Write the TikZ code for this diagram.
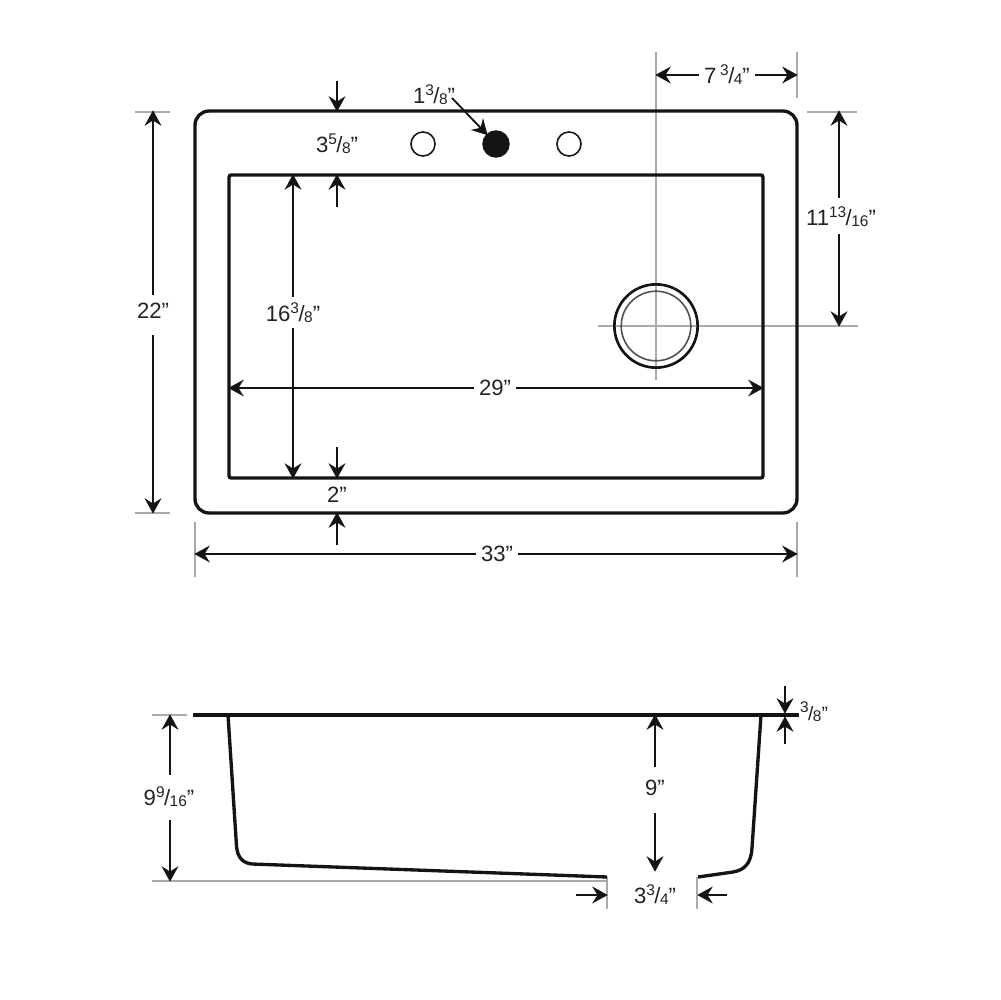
\documentclass[tikz,border=0pt]{standalone}
\usepackage{fontspec}
\setmainfont{Liberation Sans}
\usepackage{xcolor}
\usetikzlibrary{arrows.meta, calc}
\definecolor{skline}{RGB}{20,20,20}
\definecolor{skgray}{RGB}{170,170,170}
\definecolor{sktext}{RGB}{35,35,35}
\newcommand{\frc}[2]{\raisebox{4.4pt}{\fontsize{8.8}{9}\selectfont #1}\kern-0.3pt/\kern-0.3pt\raisebox{-0.8pt}{\fontsize{8.8}{9}\selectfont #2}}
\tikzset{
  part/.style={draw=skline,line width=1.9pt},
  rimbox/.style={part,rectangle,outer sep=0pt,inner sep=0pt},
  hole/.style={circle,draw=skline,line width=0.9pt,minimum size=13.7pt,inner sep=0pt,outer sep=0pt},
  guide/.style={draw=skgray,line width=0.7pt},
  dim/.style={-{Stealth[length=8.8pt,width=9.6pt,inset=3pt]},draw=skline,line width=1.05pt,shorten >=-0.4pt},
  lbl/.style={text=sktext,font=\fontsize{12.6}{14}\selectfont,inner sep=2.6pt}
}
\begin{document}
\begin{tikzpicture}[x=0.02cm,y=-0.02cm]
\useasboundingbox (0,0) rectangle (1000,1000);

% Guide lines
\draw[guide] (656,52) -- (656,380);
\draw[guide] (598,326) -- (858,326);
\draw[guide] (797,52) -- (797,98);
\draw[guide] (807,112) -- (857,112);
\draw[guide] (135,112) -- (170,112);
\draw[guide] (135,513) -- (170,513);
\draw[guide] (195,522) -- (195,577);
\draw[guide] (797,522) -- (797,577);
\draw[guide] (152,715) -- (187,715);
\draw[guide] (152,881) -- (607,881);
\draw[guide] (607,877) -- (607,909);
\draw[guide] (697,877) -- (697,909);

% Top view
\node[rimbox,rounded corners=8pt,minimum width=342.6pt,minimum height=228.8pt] (outer) at (496,312) {};
\node[rimbox,rounded corners=1.2pt,minimum width=303.9pt,minimum height=172.5pt] (inner) at (496,326.5) {};
\node[hole] (holeL) at (423,144) {};
\node[hole,fill=skline,line width=1pt,minimum size=14.6pt] (holeM) at (496,144) {};
\node[hole] (holeR) at (569,144) {};
\node[circle,draw=skline,line width=1.5pt,minimum size=47.4pt,inner sep=0pt,outer sep=0pt] (drain) at (656,326) {};
\node[circle,draw=skline!75,line width=0.9pt,minimum size=39.6pt,inner sep=0pt] (drainin) at (656,326) {};

% Top view dimensions
\node[lbl] (w734) at (727,75) {7\,\frc{3}{4}"};
\draw[dim] (w734) -- (w734 -| drain);
\draw[dim] (w734) -- (w734 -| outer.east);

\node[lbl] (h1113) at (841,217) {11\frc{13}{16}"};
\coordinate (a1113u) at (839,198);
\coordinate (a1113d) at (839,234);
\draw[dim] (a1113u) -- (a1113u |- outer.north);
\draw[dim] (a1113d) -- (a1113d |- drain);

\node[lbl] (h22) at (153,311) {22"};
\coordinate (a22u) at (153,295);
\coordinate (a22d) at (153,335);
\draw[dim] (a22u) -- (a22u |- outer.north);
\draw[dim] (a22d) -- (a22d |- outer.south);

\node[lbl] (h1638) at (293,313) {16\frc{3}{8}"};
\coordinate (a1638u) at (293,297);
\coordinate (a1638d) at (293,328);
\draw[dim] (a1638u) -- (a1638u |- inner.north);
\draw[dim] (a1638d) -- (a1638d |- inner.south);

\node[lbl] (w29) at (495,388) {29"};
\draw[dim] (w29) -- (w29 -| inner.west);
\draw[dim] (w29) -- (w29 -| inner.east);

\node[lbl] (w33) at (497,554) {33"};
\draw[dim] (w33) -- (w33 -| outer.west);
\draw[dim] (w33) -- (w33 -| outer.east);

\node[lbl] (h358) at (337,144) {3\frc{5}{8}"};
\coordinate (a358u) at (337,81);
\coordinate (a358d) at (337,207);
\draw[dim] (a358u) -- (a358u |- outer.north);
\draw[dim] (a358d) -- (a358d |- inner.north);

\node[lbl] (h2) at (337,495) {2"};
\coordinate (a2u) at (337,447);
\coordinate (a2d) at (337,545);
\draw[dim] (a2u) -- (a2u |- inner.south);
\draw[dim] (a2d) -- (a2d |- outer.south);

\node[lbl] (d138) at (434,95) {1\frc{3}{8}"};
\coordinate (a138) at (452,98);
\draw[dim] (a138) -- (holeM);

% Side view
\coordinate (rimL) at (193,715);
\coordinate (rimR) at (799,715);
\coordinate (footL) at (607,877);
\coordinate (footR) at (698,877);
\draw[part,line width=2.2pt] (rimL) -- (rimR);
\draw[part,line join=round] (228,715) -- (236.5,846) .. controls (237.5,858) and (243,863) .. (252,864) -- (footL);
\draw[part,line join=round] (761,715) -- (752,848) .. controls (751,863) and (745,870) .. (733,872) -- (footR);

% Side view dimensions
\node[lbl] (h916) at (169,797) {9\frc{9}{16}"};
\coordinate (a916u) at (170,775);
\coordinate (a916d) at (170,820);
\draw[dim] (a916u) -- (a916u |- rimL);
\draw[dim] (a916d) -- (170,881);

\node[lbl] (h9) at (655,788) {9"};
\coordinate (a9u) at (655,767);
\coordinate (a9d) at (655,813);
\draw[dim] (a9u) -- (a9u |- rimL);
\draw[dim] (a9d) -- (655,871);

\node[lbl] (w334) at (655,895) {3\frc{3}{4}"};
\coordinate (a334l) at (576,895);
\coordinate (a334r) at (727,895);
\draw[dim] (a334l) -- (a334l -| footL);
\draw[dim] (a334r) -- (a334r -| footR);

\node[lbl,font=\fontsize{11}{13}\selectfont] (h38) at (814,712) {\frc{3}{8}"};
\coordinate (a38u) at (785,686);
\coordinate (a38d) at (785,744);
\draw[dim] (a38u) -- (785,713);
\draw[dim] (a38d) -- (785,717);
\end{tikzpicture}
\end{document}
